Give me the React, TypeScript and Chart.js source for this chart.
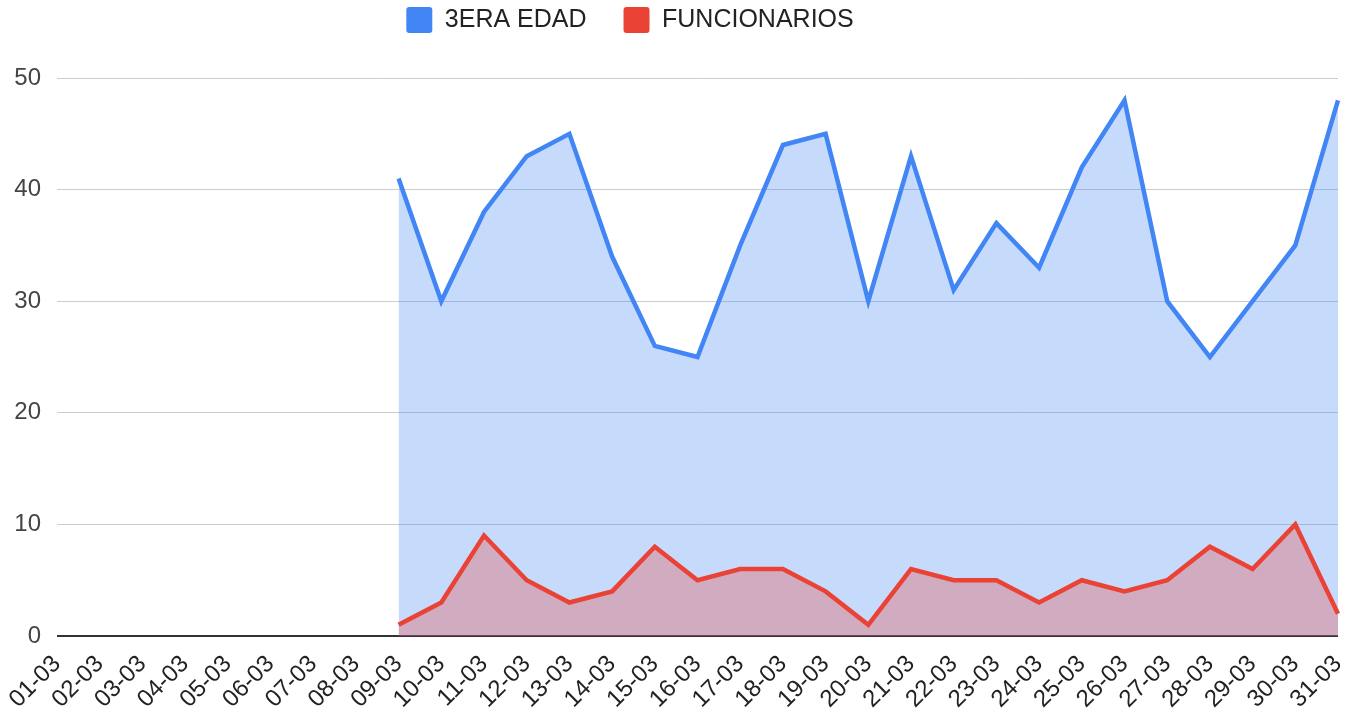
import { useEffect, useRef } from 'react';
import { Chart, registerables } from 'chart.js';

Chart.register(...registerables);

const categories = [
  '01-03', '02-03', '03-03', '04-03', '05-03', '06-03', '07-03', '08-03', '09-03', '10-03',
  '11-03', '12-03', '13-03', '14-03', '15-03', '16-03', '17-03', '18-03', '19-03', '20-03',
  '21-03', '22-03', '23-03', '24-03', '25-03', '26-03', '27-03', '28-03', '29-03', '30-03', '31-03',
];

const terceraEdad: (number | null)[] = [
  null, null, null, null, null, null, null, null,
  41, 30, 38, 43, 45, 34, 26, 25, 35, 44, 45, 30, 43, 31, 37, 33, 42, 48, 30, 25, 30, 35, 48,
];

const funcionarios: (number | null)[] = [
  null, null, null, null, null, null, null, null,
  1, 3, 9, 5, 3, 4, 8, 5, 6, 6, 4, 1, 6, 5, 5, 3, 5, 4, 5, 8, 6, 10, 2,
];

const seriesNames = ['3ERA EDAD', 'FUNCIONARIOS'];
const yTicks = [0, 10, 20, 30, 40, 50];

const FONT = "'Liberation Sans', Arial, sans-serif";

export default function App() {
  const ref = useRef<HTMLCanvasElement | null>(null);

  useEffect(() => {
    if (!ref.current) return;
    const chart = new Chart(ref.current, {
      type: 'line',
      data: {
        labels: categories,
        datasets: [
          {
            label: seriesNames[0],
            data: terceraEdad,
            borderColor: '#4285f4',
            backgroundColor: 'rgba(66,133,244,0.3)',
            borderWidth: 4.5,
            pointRadius: 0,
            fill: 'origin',
            spanGaps: false,
            tension: 0,
            order: 1,
          },
          {
            label: seriesNames[1],
            data: funcionarios,
            borderColor: '#ea4335',
            backgroundColor: 'rgba(234,67,53,0.3)',
            borderWidth: 4.5,
            pointRadius: 0,
            fill: 'origin',
            spanGaps: false,
            tension: 0,
            order: 0,
          },
        ],
      },
      options: {
        responsive: false,
        animation: false,
        devicePixelRatio: 1,
        layout: { padding: { top: -30, left: -96, right: 0, bottom: 0 } },
        plugins: {
          tooltip: { enabled: false },
          legend: {
            position: 'top',
            align: 'center',
            labels: {
              sort: (a: any, b: any) => a.datasetIndex - b.datasetIndex,
              boxWidth: 26,
              boxHeight: 26,
              padding: 37,
              color: '#222',
              useBorderRadius: true,
              borderRadius: 3,
              font: { family: FONT, size: 25 },
              generateLabels: (chart: any) =>
                chart.data.datasets.map((ds: any, i: number) => ({
                  text: ds.label,
                  fillStyle: ds.borderColor,
                  strokeStyle: ds.borderColor,
                  lineWidth: 0,
                  hidden: false,
                  datasetIndex: i,
                  borderRadius: 3,
                  fontColor: '#222',
                })),
            },
          },
        },
        scales: {
          x: {
            grid: { display: false },
            border: { display: false },
            afterFit: (scale: any) => {
              scale.height = 81;
              scale.paddingRight = 18;
            },
            ticks: {
              autoSkip: false,
              maxRotation: 45,
              minRotation: 45,
              padding: 6,
              color: '#222',
              font: { family: FONT, size: 24 },
            },
          },
          y: {
            min: 0,
            max: 53.14,
            afterFit: (scale: any) => {
              scale.width = 153;
            },
            afterBuildTicks: (scale: any) => {
              scale.ticks = yTicks.map((v) => ({ value: v }));
            },
            border: { display: false },
            grid: {
              drawTicks: false,
              color: (ctx: any) => (ctx.tick && ctx.tick.value === 0 ? '#333333' : '#cccccc'),
              lineWidth: (ctx: any) => (ctx.tick && ctx.tick.value === 0 ? 2 : 1),
            },
            ticks: {
              padding: 16,
              color: '#444',
              font: { family: FONT, size: 24 },
            },
          },
        },
      },
    });
    return () => chart.destroy();
  }, []);

  return (
    <div style={{ position: 'fixed', left: 0, top: 0, width: 1356, height: 717, background: '#fff' }}>
      <canvas ref={ref} width={1356} height={717} style={{ display: 'block' }} />
    </div>
  );
}
